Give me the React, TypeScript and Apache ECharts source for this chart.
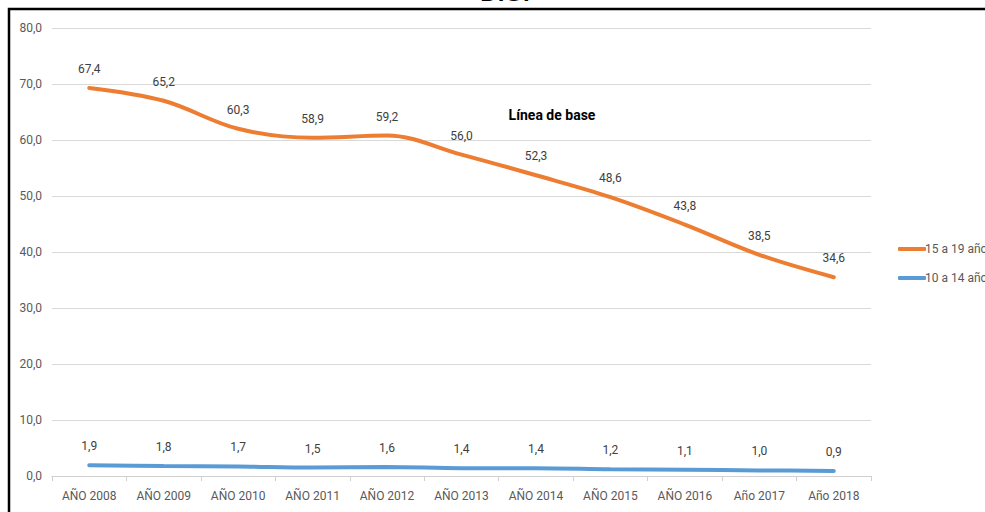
import React, { useEffect, useRef } from "react";
import * as echarts from "echarts";

const categories = [
  "AÑO 2008", "AÑO 2009", "AÑO 2010", "AÑO 2011", "AÑO 2012", "AÑO 2013",
  "AÑO 2014", "AÑO 2015", "AÑO 2016", "Año 2017", "Año 2018",
];
const teens15to19 = [67.4, 65.2, 60.3, 58.9, 59.2, 56.0, 52.3, 48.6, 43.8, 38.5, 34.6];
const kids10to14 = [1.9, 1.8, 1.7, 1.5, 1.6, 1.4, 1.4, 1.2, 1.1, 1.0, 0.9];
const seriesNames = ["15 a 19 años", "10 a 14 años"];
const annotation = "Línea de base";
const topTitle = "DIG.";

const FONT = "'Liberation Sans Narrow', 'Arial Narrow', Roboto, sans-serif";
const ORANGE = "#ED7D31";
const BLUE = "#5B9BD5";

const fmt = (v: number) => v.toFixed(1).replace(".", ",");

export default function App() {
  const ref = useRef<HTMLDivElement>(null);
  useEffect(() => {
    if (!ref.current) return;
    const chart = echarts.init(ref.current, undefined, { renderer: "svg" });
    const labelCfg = {
      show: true,
      position: "top" as const,
      distance: 13,
      color: "#404040",
      fontFamily: FONT,
      fontSize: 12,
      formatter: (p: any) => fmt(p.value),
    };
    chart.setOption({
      animation: false,
      backgroundColor: "#ffffff",
      grid: { left: 52, right: 114, top: 28, bottom: 36 },
      legend: {
        orient: "vertical",
        left: 893,
        top: 238,
        itemGap: 17,
        itemWidth: 28,
        itemHeight: 4,
        icon: "roundRect",
        data: seriesNames,
        textStyle: { color: "#595959", fontFamily: FONT, fontSize: 12, padding: [0, 0, 0, -6] },
      },
      xAxis: {
        type: "category",
        data: categories,
        boundaryGap: true,
        axisLine: { lineStyle: { color: "#d0d0d0", width: 1 } },
        axisTick: { show: true, length: 5, lineStyle: { color: "#d0d0d0" } },
        axisLabel: { color: "#595959", fontFamily: FONT, fontSize: 12, margin: 14, interval: 0 },
      },
      yAxis: {
        type: "value",
        min: 0,
        max: 80,
        interval: 10,
        axisLine: { show: false },
        axisTick: { show: false },
        splitLine: { lineStyle: { color: "#d9d9d9", width: 1 } },
        axisLabel: { color: "#595959", fontFamily: FONT, fontSize: 12, margin: 10, formatter: (v: number) => fmt(v) },
      },
      series: [
        {
          name: seriesNames[1],
          type: "line",
          stack: "total",
          data: kids10to14,
          smooth: 0.35,
          symbol: "circle",
          symbolSize: 0,
          lineStyle: { color: BLUE, width: 4, cap: "round" },
          itemStyle: { color: BLUE },
          label: labelCfg,
          z: 3,
        },
        {
          name: seriesNames[0],
          type: "line",
          stack: "total",
          data: teens15to19,
          smooth: 0.35,
          symbol: "circle",
          symbolSize: 0,
          lineStyle: { color: ORANGE, width: 4, cap: "round" },
          itemStyle: { color: ORANGE },
          label: labelCfg,
          z: 3,
        },
      ],
      graphic: [
        {
          type: "polyline",
          shape: { points: [[9, 520], [9, 9], [990, 9]] },
          style: { stroke: "#000", lineWidth: 2.5, fill: null },
          z: 10,
        },
        {
          type: "text",
          x: 505,
          y: 4,
          style: {
            text: topTitle,
            fontFamily: "'Liberation Sans', sans-serif",
            fontSize: 24,
            fontWeight: "bold",
            fill: "#000",
            align: "center",
            verticalAlign: "bottom",
          },
        },
        {
          type: "text",
          x: 552,
          y: 115,
          style: {
            text: annotation,
            fontFamily: FONT,
            fontSize: 14,
            fontWeight: "bold",
            fill: "#000",
            align: "center",
            verticalAlign: "middle",
          },
        },
      ],
    });
    return () => chart.dispose();
  }, []);
  return (
    <div
      ref={ref}
      style={{ position: "absolute", left: 0, top: 0, width: 985, height: 512 }}
    />
  );
}
